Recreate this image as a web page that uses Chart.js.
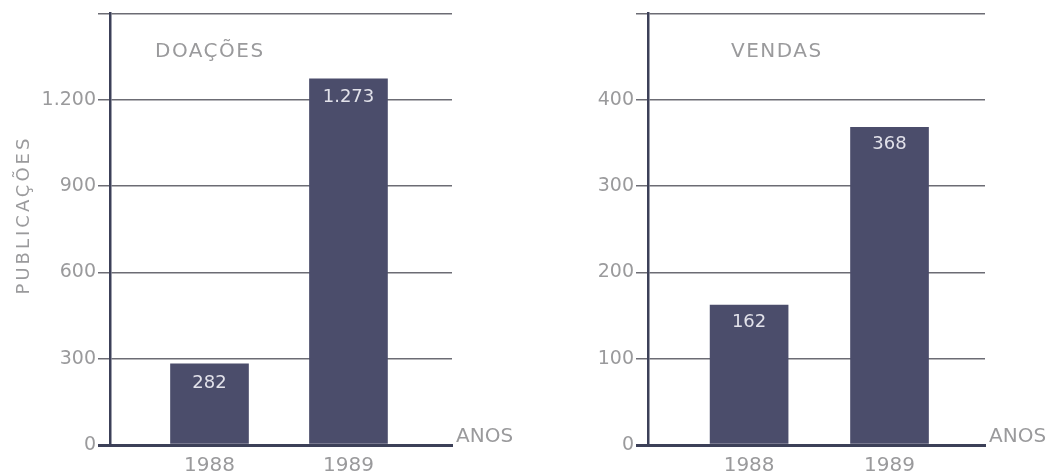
<!doctype html>
<html lang="pt">
<head>
<meta charset="UTF-8" />
<title>Publicações - Doações e Vendas</title>
<script src="https://cdn.jsdelivr.net/npm/chart.js"></script>
<style>
  body { margin: 0; background: #ffffff; width: 1063px; height: 473px; overflow: hidden; position: relative; }
  .box { position: absolute; top: 0; height: 473px; }
  #boxLeft { left: 0; width: 530px; }
  #boxRight { left: 560px; width: 503px; }
</style>
</head>
<body>
<div class="box" id="boxLeft"><canvas id="doacoes"></canvas></div>
<div class="box" id="boxRight"><canvas id="vendas"></canvas></div>

<script>
  // data
  const years = ["1988", "1989"];
  const doacoes = [282, 1273];
  const vendas = [162, 368];
  const doacoesTicks = [0, 300, 600, 900, 1200, 1500];
  const vendasTicks = [0, 100, 200, 300, 400, 500];

  const FONT = "'DejaVu Sans', sans-serif";
  const GREY = "#9a9a9c";
  const BAR = "#4b4d6b";
  const AXIS = "#3c4058";
  const GRID = "#6c6c74";

  // 1.200 style
  function ptNumber(v) {
    return String(v).replace(/\B(?=(\d{3})+(?!\d))/g, ".");
  }

  // free text: panel title, bar values, ANOS, y title
  const textPlugin = {
    id: "texts",
    afterDatasetsDraw(chart, args, opts) {
      const ctx = chart.ctx;
      const area = chart.chartArea;
      ctx.save();
      ctx.textBaseline = "middle";

      // panel title
      ctx.font = "20px " + FONT;
      ctx.fillStyle = GREY;
      ctx.letterSpacing = "1.5px";
      ctx.textAlign = "left";
      ctx.fillText(opts.title, area.left + opts.titleX, 52);

      // ANOS
      ctx.letterSpacing = "0px";
      ctx.fillText("ANOS", area.right + 4, area.bottom - 8);

      // values in the bars
      const meta = chart.getDatasetMeta(0);
      ctx.font = "18px " + FONT;
      ctx.fillStyle = "#e2e2ea";
      ctx.textAlign = "center";
      meta.data.forEach((bar, i) => {
        const v = chart.data.datasets[0].data[i].y;
        ctx.fillText(ptNumber(v), bar.x, bar.y + opts.labelOffset);
      });

      // y title
      if (opts.yTitle) {
        ctx.font = "18px " + FONT;
        ctx.fillStyle = GREY;
        ctx.letterSpacing = "3px";
        ctx.translate(24, 215);
        ctx.rotate(-Math.PI / 2);
        ctx.fillText(opts.yTitle, 0, 0);
      }
      ctx.restore();
    }
  };

  function makeChart(id, values, ticks, title, opts) {
    const points = values.map((v, i) => ({ x: i, y: v }));
    return new Chart(document.getElementById(id), {
      type: "bar",
      data: {
        datasets: [{
          data: points,
          backgroundColor: BAR,
          borderWidth: 0,
          barThickness: 78
        }]
      },
      plugins: [textPlugin],
      options: {
        responsive: true,
        maintainAspectRatio: false,
        animation: false,
        events: [],
        layout: { padding: { top: 12, right: opts.padRight, left: 0, bottom: 0 } },
        plugins: {
          legend: { display: false },
          tooltip: { enabled: false },
          texts: { title: title, titleX: opts.titleX, labelOffset: opts.labelOffset, yTitle: opts.yTitle }
        },
        scales: {
          x: {
            type: "linear",
            offset: false,
            min: opts.xMin,
            max: opts.xMax,
            afterBuildTicks: (s) => { s.ticks = years.map((y, i) => ({ value: i })); },
            afterFit: (s) => { s.height = 28; },
            ticks: {
              callback: (v) => years[v],
              color: GREY,
              font: { family: FONT, size: 20 },
              padding: 1,
              maxRotation: 0
            },
            grid: { display: false, offset: false },
            border: { display: true, color: AXIS, width: 3 }
          },
          y: {
            min: 0,
            max: ticks[ticks.length - 1],
            afterBuildTicks: (s) => { s.ticks = ticks.map((t) => ({ value: t })); },
            afterFit: (s) => { s.width = opts.yWidth; },
            ticks: {
              callback: (v) => (v === ticks[ticks.length - 1] ? "" : ptNumber(v)),
              color: GREY,
              font: { family: FONT, size: 19 },
              padding: 2
            },
            grid: {
              color: (c) => (c.tick && c.tick.value === 0 ? AXIS : GRID),
              lineWidth: (c) => (c.tick && c.tick.value === 0 ? 3 : 1.5),
              tickLength: 12
            },
            border: { display: true, color: AXIS, width: 2.5 }
          }
        }
      }
    });
  }

  makeChart("doacoes", doacoes, doacoesTicks, "DOAÇÕES", {
    padRight: 78, yWidth: 110, xMin: -0.716, xMax: 1.745,
    titleX: 45, labelOffset: 19, yTitle: "PUBLICAÇÕES"
  });
  makeChart("vendas", vendas, vendasTicks, "VENDAS", {
    padRight: 78, yWidth: 88, xMin: -0.72, xMax: 1.68,
    titleX: 83, labelOffset: 17, yTitle: null
  });
</script>
</body>
</html>
